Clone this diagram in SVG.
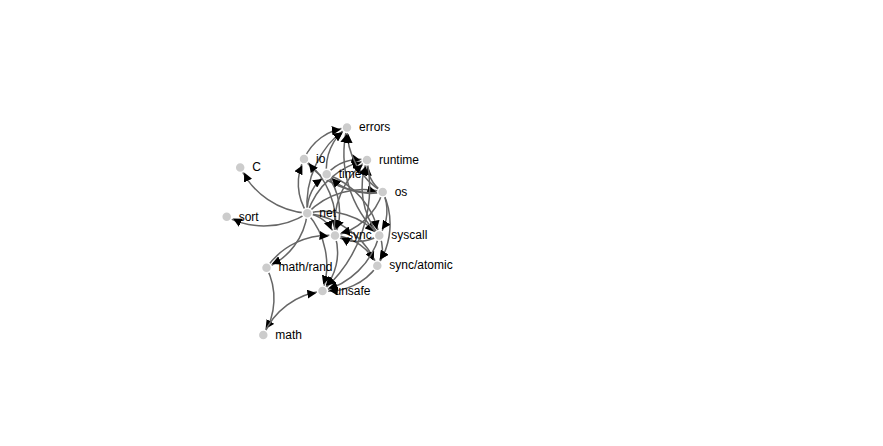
<svg xmlns="http://www.w3.org/2000/svg" width="883" height="446" viewBox="0 0 883 446">
<style>
.link{fill:none;stroke:#666;stroke-width:1.5px}
.node circle{fill:#ccc;stroke:#fff;stroke-width:1.5px}
.node text{font-family:"Liberation Sans",Arial,sans-serif;font-size:12px;fill:#000}
</style>
<defs>
<marker id="arrow" viewBox="0 -5 10 10" refX="17" refY="-1.5" markerWidth="6" markerHeight="6" orient="auto"><path d="M0,-5L10,0L0,5" fill="#000"/></marker>
</defs>
<rect width="883" height="446" fill="#fff"/>
<g id="links" marker-end="url(#arrow)">
<path class="link" d="M307.3,213.3A81.2,81.2 0 0,1 240.2,167.5"/>
<path class="link" d="M307.3,213.3A94.5,94.5 0 0,1 347,127.5"/>
<path class="link" d="M307.3,213.3A54.4,54.4 0 0,1 304,159"/>
<path class="link" d="M307.3,213.3A68,68 0 0,1 266.5,267.7"/>
<path class="link" d="M307.3,213.3A78.4,78.4 0 0,1 382.7,192"/>
<path class="link" d="M307.3,213.3A80,80 0 0,1 367,160"/>
<path class="link" d="M307.3,213.3A80.7,80.7 0 0,1 226.7,216.8"/>
<path class="link" d="M307.3,213.3A35.5,35.5 0 0,1 335,235.5"/>
<path class="link" d="M307.3,213.3A75.3,75.3 0 0,1 379.3,235.5"/>
<path class="link" d="M307.3,213.3A43.6,43.6 0 0,1 326.7,174.3"/>
<path class="link" d="M307.3,213.3A79.2,79.2 0 0,1 322.5,291"/>
<path class="link" d="M307.3,213.3A87.4,87.4 0 0,1 377.3,265.7"/>
<path class="link" d="M304,159A53.3,53.3 0 0,1 347,127.5"/>
<path class="link" d="M304,159A82.5,82.5 0 0,1 335,235.5"/>
<path class="link" d="M326.7,174.3A51,51 0 0,1 347,127.5"/>
<path class="link" d="M326.7,174.3A42.8,42.8 0 0,1 367,160"/>
<path class="link" d="M326.7,174.3A61.8,61.8 0 0,1 335,235.5"/>
<path class="link" d="M326.7,174.3A80.7,80.7 0 0,1 379.3,235.5"/>
<path class="link" d="M382.7,192A73.7,73.7 0 0,1 347,127.5"/>
<path class="link" d="M382.7,192A85.3,85.3 0 0,1 304,159"/>
<path class="link" d="M382.7,192A35.6,35.6 0 0,1 367,160"/>
<path class="link" d="M382.7,192A64.6,64.6 0 0,1 335,235.5"/>
<path class="link" d="M382.7,192A73.9,73.9 0 0,1 377.3,265.7"/>
<path class="link" d="M382.7,192A43.6,43.6 0 0,1 379.3,235.5"/>
<path class="link" d="M382.7,192A58.7,58.7 0 0,1 326.7,174.3"/>
<path class="link" d="M335,235.5A82,82 0 0,1 367,160"/>
<path class="link" d="M335,235.5A52,52 0 0,1 377.3,265.7"/>
<path class="link" d="M335,235.5A56.9,56.9 0 0,1 322.5,291"/>
<path class="link" d="M379.3,235.5A112.7,112.7 0 0,1 347,127.5"/>
<path class="link" d="M379.3,235.5A76.5,76.5 0 0,1 367,160"/>
<path class="link" d="M379.3,235.5A44.3,44.3 0 0,1 335,235.5"/>
<path class="link" d="M379.3,235.5A30.3,30.3 0 0,1 377.3,265.7"/>
<path class="link" d="M379.3,235.5A79.4,79.4 0 0,1 322.5,291"/>
<path class="link" d="M377.3,265.7A60.4,60.4 0 0,1 322.5,291"/>
<path class="link" d="M266.5,267.7A67.4,67.4 0 0,1 263.3,335"/>
<path class="link" d="M266.5,267.7A75.7,75.7 0 0,1 335,235.5"/>
<path class="link" d="M263.3,335A73.8,73.8 0 0,1 322.5,291"/>
<path class="link" d="M367,160A138.4,138.4 0 0,1 322.5,291"/>
</g>
<g id="node-errors" class="node"><circle cx="347" cy="127.5" r="5"/><text x="359" y="131.2">errors</text></g>
<g id="node-io" class="node"><circle cx="304" cy="159" r="5"/><text x="316" y="162.7">io</text></g>
<g id="node-runtime" class="node"><circle cx="367" cy="160" r="5"/><text x="379" y="163.7">runtime</text></g>
<g id="node-time" class="node"><circle cx="326.7" cy="174.3" r="5"/><text x="338.7" y="178">time</text></g>
<g id="node-C" class="node"><circle cx="240.2" cy="167.5" r="5"/><text x="252.2" y="171.2">C</text></g>
<g id="node-os" class="node"><circle cx="382.7" cy="192" r="5"/><text x="394.7" y="195.7">os</text></g>
<g id="node-sort" class="node"><circle cx="226.7" cy="216.8" r="5"/><text x="238.7" y="220.5">sort</text></g>
<g id="node-net" class="node"><circle cx="307.3" cy="213.3" r="5"/><text x="319.3" y="217">net</text></g>
<g id="node-sync" class="node"><circle cx="335" cy="235.5" r="5"/><text x="347" y="239.2">sync</text></g>
<g id="node-syscall" class="node"><circle cx="379.3" cy="235.5" r="5"/><text x="391.3" y="239.2">syscall</text></g>
<g id="node-math-rand" class="node"><circle cx="266.5" cy="267.7" r="5"/><text x="278.5" y="271.4">math/rand</text></g>
<g id="node-sync-atomic" class="node"><circle cx="377.3" cy="265.7" r="5"/><text x="389.3" y="269.4">sync/atomic</text></g>
<g id="node-unsafe" class="node"><circle cx="322.5" cy="291" r="5"/><text x="334.5" y="294.7">unsafe</text></g>
<g id="node-math" class="node"><circle cx="263.3" cy="335" r="5"/><text x="275.3" y="338.7">math</text></g>
</svg>
